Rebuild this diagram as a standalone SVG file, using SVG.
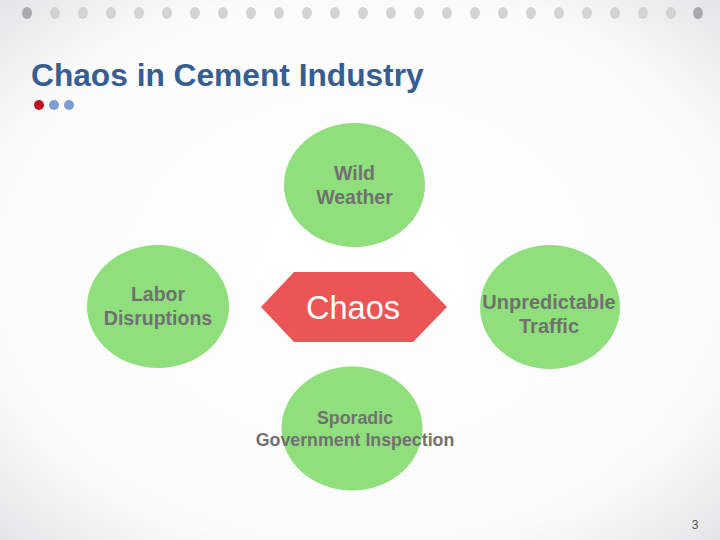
<svg xmlns="http://www.w3.org/2000/svg" width="720" height="540" viewBox="0 0 720 540">
  <defs>
    <radialGradient id="bg" cx="50%" cy="50%" r="75%">
      <stop offset="0" stop-color="#ffffff"/>
      <stop offset="0.7" stop-color="#fbfbfb"/>
      <stop offset="1" stop-color="#dedfe1"/>
    </radialGradient>
    <style>
      .dot { fill: #d3d3d3; }
      .dotd { fill: #a9a9ad; }
      .bubble { fill: #8fe07c; }
      .lbl { font-family: "Liberation Sans", Arial, sans-serif; font-weight: bold; fill: #707070; text-anchor: middle; }
    </style>
  </defs>
  <rect width="720" height="540" fill="url(#bg)"/>

  <g id="top-dots">
    <ellipse class="dotd" cx="27" cy="13" rx="5" ry="6"/>
    <ellipse class="dot" cx="55" cy="13" rx="5" ry="6"/>
    <ellipse class="dot" cx="83" cy="13" rx="5" ry="6"/>
    <ellipse class="dot" cx="111" cy="13" rx="5" ry="6"/>
    <ellipse class="dot" cx="139" cy="13" rx="5" ry="6"/>
    <ellipse class="dot" cx="167" cy="13" rx="5" ry="6"/>
    <ellipse class="dot" cx="195" cy="13" rx="5" ry="6"/>
    <ellipse class="dot" cx="223" cy="13" rx="5" ry="6"/>
    <ellipse class="dot" cx="251" cy="13" rx="5" ry="6"/>
    <ellipse class="dot" cx="279" cy="13" rx="5" ry="6"/>
    <ellipse class="dot" cx="307" cy="13" rx="5" ry="6"/>
    <ellipse class="dot" cx="335" cy="13" rx="5" ry="6"/>
    <ellipse class="dot" cx="363" cy="13" rx="5" ry="6"/>
    <ellipse class="dot" cx="391" cy="13" rx="5" ry="6"/>
    <ellipse class="dot" cx="419" cy="13" rx="5" ry="6"/>
    <ellipse class="dot" cx="447" cy="13" rx="5" ry="6"/>
    <ellipse class="dot" cx="475" cy="13" rx="5" ry="6"/>
    <ellipse class="dot" cx="503" cy="13" rx="5" ry="6"/>
    <ellipse class="dot" cx="531" cy="13" rx="5" ry="6"/>
    <ellipse class="dot" cx="559" cy="13" rx="5" ry="6"/>
    <ellipse class="dot" cx="587" cy="13" rx="5" ry="6"/>
    <ellipse class="dot" cx="615" cy="13" rx="5" ry="6"/>
    <ellipse class="dot" cx="643" cy="13" rx="5" ry="6"/>
    <ellipse class="dot" cx="671" cy="13" rx="5" ry="6"/>
    <ellipse class="dotd" cx="698" cy="13" rx="5" ry="6"/>
  </g>

  <g id="title">
    <text x="31" y="86" font-family="Liberation Sans, Arial, sans-serif" font-weight="bold" font-size="31.7" fill="#365e92">Chaos in Cement Industry</text>
    <circle cx="39" cy="105" r="5" fill="#bb1420"/>
    <circle cx="54" cy="105" r="5" fill="#7d9dd2"/>
    <circle cx="69" cy="105" r="5" fill="#7d9dd2"/>
  </g>

  <g id="connectors"/>

  <g id="wild-weather">
    <ellipse class="bubble" cx="354.5" cy="185" rx="70.5" ry="62"/>
    <text class="lbl" font-size="19.5" x="354.5" y="180">Wild</text>
    <text class="lbl" font-size="19.5" x="354.5" y="204">Weather</text>
  </g>

  <g id="labor-disruptions">
    <ellipse class="bubble" cx="158" cy="306.5" rx="71" ry="61.5"/>
    <text class="lbl" font-size="19.5" x="158" y="301">Labor</text>
    <text class="lbl" font-size="19.5" x="158" y="325">Disruptions</text>
  </g>

  <g id="unpredictable-traffic">
    <ellipse class="bubble" cx="550" cy="307" rx="70" ry="62"/>
    <text class="lbl" font-size="20" x="549" y="309">Unpredictable</text>
    <text class="lbl" font-size="20" x="549" y="333">Traffic</text>
  </g>

  <g id="sporadic-inspection">
    <ellipse class="bubble" cx="352" cy="428.5" rx="70.5" ry="62"/>
    <text class="lbl" font-size="17.8" x="355" y="424">Sporadic</text>
    <text class="lbl" font-size="17.8" x="355" y="446">Government Inspection</text>
  </g>

  <g id="chaos">
    <polygon points="261,307 294,272 413,272 447,307 413,342 294,342" fill="#ec5555"/>
    <text x="353" y="319" font-family="Liberation Sans, Arial, sans-serif" font-size="32.5" fill="#ffffff" text-anchor="middle">Chaos</text>
  </g>

  <text x="695" y="529" font-family="Liberation Sans, Arial, sans-serif" font-size="12" fill="#555555" text-anchor="middle">3</text>
</svg>
